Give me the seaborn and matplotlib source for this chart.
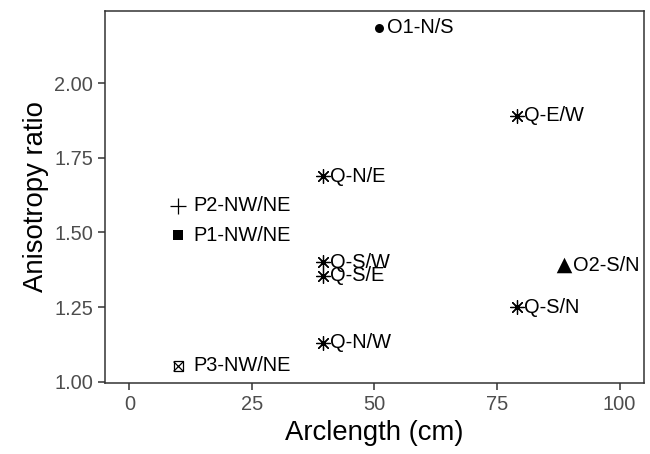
import numpy as np
import pandas as pd
import seaborn as sns
import matplotlib.pyplot as plt

# values
labels = ['O1-N/S', 'O2-S/N', 'P1-NW/NE', 'P2-NW/NE', 'P3-NW/NE',
          'Q-E/W', 'Q-N/E', 'Q-S/W', 'Q-S/E', 'Q-S/N', 'Q-N/W']
groups = ['O1', 'O2', 'P1', 'P2', 'P3', 'Q', 'Q', 'Q', 'Q', 'Q', 'Q']
arclength = [51, 88.7, 10, 10, 10, 79, 39.5, 39.5, 39.5, 79, 39.5]
ratio = [2.186, 1.39, 1.49, 1.59, 1.053, 1.89, 1.688, 1.40, 1.355, 1.25, 1.13]

df = pd.DataFrame({'label': labels, 'group': groups,
                   'Arclength': arclength, 'Ratio': ratio})

sns.set_style("white")
plt.rcParams['font.family'] = ['Liberation Sans', 'DejaVu Sans']

fig = plt.figure(figsize=(6.5, 4.54), dpi=100)
ax = fig.add_axes([0.1615, 0.157, 0.8293, 0.8194])

# marker style per group: list of (marker, size, filled)
marker_style = {
    'O1': [('o', 42, True)],
    'O2': [('^', 125, True)],
    'P1': [('s', 50, True)],
    'P2': [('+', 117, False)],
    'P3': [('s', 50, 'open'), ('x', 50, False)],
    'Q': [((8, 2, 0), 100, False)],
}
label_offset = {'O1': 5.5, 'O2': 6.5, 'P1': 11, 'P2': 11, 'P3': 11, 'Q': 5}

for g, specs in marker_style.items():
    sub = df[df['group'] == g]
    for m, s, filled in specs:
        if filled is True:
            sns.scatterplot(data=sub, x='Arclength', y='Ratio', marker=m, s=s,
                            color='black', edgecolor='black', linewidth=0, ax=ax)
        elif filled == 'open':
            sns.scatterplot(data=sub, x='Arclength', y='Ratio', marker=m, s=s,
                            color='black', facecolor='none', edgecolor='black',
                            linewidth=0.9, ax=ax)
        else:
            sns.scatterplot(data=sub, x='Arclength', y='Ratio', marker=m, s=s,
                            color='black', linewidth=0.9, ax=ax)

for lab, g, xv, yv in zip(labels, groups, arclength, ratio):
    ax.annotate(lab, (xv, yv), xytext=(label_offset[g], 0),
                textcoords='offset points', ha='left', va='center',
                fontsize=14.4, color='black')

yr = max(ratio) - min(ratio)
ax.set_xlim(-5, 105)
ax.set_ylim(min(ratio) - 0.05 * yr, max(ratio) + 0.05 * yr)
ax.set_xticks([0, 25, 50, 75, 100])
ax.set_yticks([1.00, 1.25, 1.50, 1.75, 2.00])
ax.set_yticklabels(['1.00', '1.25', '1.50', '1.75', '2.00'])

ax.set_xlabel('Arclength (cm)', fontsize=19.8, color='black', labelpad=5)
ax.set_ylabel('Anisotropy ratio', fontsize=19.8, color='black', labelpad=4)
ax.tick_params(axis='both', which='major', direction='out', length=5, width=1.1,
               color='#333333', labelsize=14.4, labelcolor='#4D4D4D', pad=3.5,
               bottom=True, left=True)
for sp in ax.spines.values():
    sp.set_color('#333333')
    sp.set_linewidth(1.1)

plt.savefig('out.png', dpi=100)
